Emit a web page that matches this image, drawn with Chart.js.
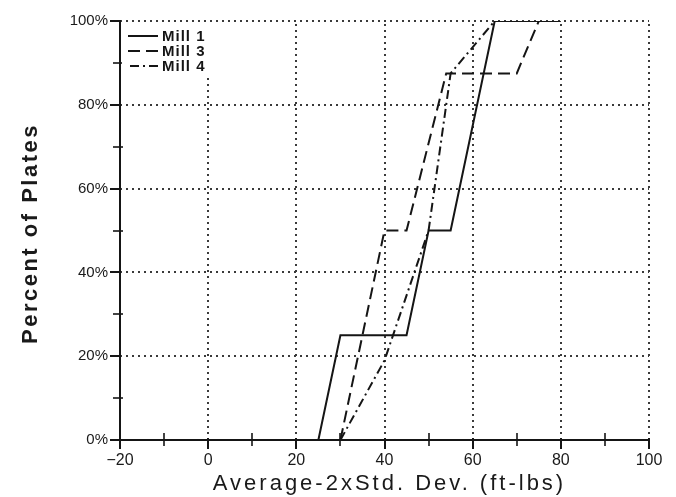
<!DOCTYPE html>
<html>
<head>
<meta charset="utf-8">
<script src="https://cdn.jsdelivr.net/npm/chart.js@4"></script>
<style>
  html, body { margin: 0; padding: 0; background: #fff; }
  canvas { display: block; }
</style>
</head>
<body>
<canvas id="chart" width="676" height="497"></canvas>
<script>
// Cumulative share of plates by (average - 2 x std. dev.) toughness
const seriesNames = ['Mill 1', 'Mill 3', 'Mill 4'];
const mill1X = [25, 30, 45, 50, 55, 65, 80];
const mill1Y = [0, 25, 25, 50, 50, 100, 100];
const mill3X = [30, 40, 45, 54, 70, 75];
const mill3Y = [0, 50, 50, 87.5, 87.5, 100];
const mill4X = [30, 40, 50, 55, 65];
const mill4Y = [0, 19, 50, 87.5, 100];
const xTicks = [-20, 0, 20, 40, 60, 80, 100];
const xMinorTicks = [-10, 10, 30, 50, 70, 90];
const yTicks = [0, 20, 40, 60, 80, 100];
const yMinorTicks = [10, 30, 50, 70, 90];
const xTitle = 'Average-2xStd. Dev. (ft-lbs)';
const yTitle = 'Percent of Plates';

const ink = '#151515';
const pts = (xs, ys) => xs.map((x, i) => ({ x: x, y: ys[i] }));

function lineSet(label, xs, ys, dash) {
  return {
    label: label,
    data: pts(xs, ys),
    borderColor: ink,
    borderWidth: 2,
    borderDash: dash,
    pointRadius: 0,
    tension: 0,
    fill: false
  };
}

// Dotted grid, axis tick marks, inset legend and spaced axis titles
const framePlugin = {
  id: 'frame',
  beforeDatasetsDraw(chart) {
    const { ctx, chartArea: a, scales: { x, y } } = chart;
    ctx.save();
    ctx.strokeStyle = '#3a3a3a';
    ctx.lineWidth = 2;
    ctx.setLineDash([2, 4]);
    xTicks.filter(v => v > x.min).forEach(v => {
      const px = Math.round(x.getPixelForValue(v));
      ctx.beginPath(); ctx.moveTo(px, a.bottom); ctx.lineTo(px, a.top); ctx.stroke();
    });
    yTicks.filter(v => v > y.min).forEach(v => {
      const py = Math.round(y.getPixelForValue(v));
      ctx.beginPath(); ctx.moveTo(a.left, py); ctx.lineTo(a.right, py); ctx.stroke();
    });
    ctx.restore();
  },
  afterDraw(chart) {
    const { ctx, chartArea: a, scales: { x, y } } = chart;
    ctx.save();
    ctx.strokeStyle = ink;
    ctx.setLineDash([]);
    // x-axis ticks
    ctx.lineWidth = 2;
    xTicks.forEach(v => {
      const px = Math.round(x.getPixelForValue(v));
      ctx.beginPath(); ctx.moveTo(px, a.bottom - 2); ctx.lineTo(px, a.bottom + 9); ctx.stroke();
    });
    ctx.lineWidth = 1.6;
    xMinorTicks.forEach(v => {
      const px = Math.round(x.getPixelForValue(v));
      ctx.beginPath(); ctx.moveTo(px, a.bottom - 7); ctx.lineTo(px, a.bottom + 6); ctx.stroke();
    });
    // y-axis ticks
    ctx.lineWidth = 2;
    yTicks.forEach(v => {
      const py = Math.round(y.getPixelForValue(v));
      ctx.beginPath(); ctx.moveTo(a.left - 10, py); ctx.lineTo(a.left + 1, py); ctx.stroke();
    });
    ctx.lineWidth = 1.6;
    yMinorTicks.forEach(v => {
      const py = Math.round(y.getPixelForValue(v));
      ctx.beginPath(); ctx.moveTo(a.left - 7, py); ctx.lineTo(a.left + 3, py); ctx.stroke();
    });

    // legend
    ctx.fillStyle = '#fff';
    ctx.fillRect(a.left + 2, a.top + 3, 96, 53);
    ctx.font = 'bold 15px "Liberation Sans", Arial, sans-serif';
    ctx.textBaseline = 'middle';
    ctx.textAlign = 'left';
    ctx.letterSpacing = '1px';
    ctx.fillStyle = ink;
    const rows = [a.top + 15, a.top + 30, a.top + 45];
    chart.data.datasets.forEach((ds, i) => {
      const ly = rows[i];
      ctx.lineWidth = 2;
      ctx.setLineDash(ds.borderDash || []);
      ctx.beginPath(); ctx.moveTo(a.left + 38, ly); ctx.lineTo(a.left + 8, ly); ctx.stroke();
      ctx.setLineDash([]);
      ctx.fillText(ds.label, a.left + 42, ly + 1);
    });

    // axis titles
    ctx.fillStyle = '#1a1a1a';
    ctx.textBaseline = 'alphabetic';
    ctx.textAlign = 'center';
    ctx.letterSpacing = '3px';
    ctx.font = '22px "Liberation Sans", Arial, sans-serif';
    ctx.fillText(xTitle, (a.left + a.right) / 2 + 5, 490);
    ctx.translate(37, (a.top + a.bottom) / 2 + 3);
    ctx.rotate(-Math.PI / 2);
    ctx.letterSpacing = '2.5px';
    ctx.font = 'bold 22px "Liberation Sans", Arial, sans-serif';
    ctx.fillText(yTitle, 0, 0);
    ctx.restore();
  }
};

new Chart(document.getElementById('chart'), {
  type: 'line',
  data: {
    datasets: [
      lineSet(seriesNames[0], mill1X, mill1Y, []),
      lineSet(seriesNames[1], mill3X, mill3Y, [12, 6]),
      lineSet(seriesNames[2], mill4X, mill4Y, [9, 4, 2, 4])
    ]
  },
  options: {
    responsive: false,
    animation: false,
    devicePixelRatio: 1,
    layout: { padding: { left: 0, right: 27, top: 16, bottom: 0 } },
    plugins: { legend: { display: false }, tooltip: { enabled: false } },
    scales: {
      x: {
        type: 'linear',
        min: -20,
        max: 100,
        afterBuildTicks: s => { s.ticks = xTicks.map(v => ({ value: v })); },
        afterFit: s => { s.height = 57; },
        grid: { display: false, drawTicks: false },
        border: { display: true, color: ink, width: 2 },
        ticks: {
          padding: 11,
          autoSkip: false,
          maxRotation: 0,
          color: '#1a1a1a',
          font: { family: '"Liberation Sans", Arial, sans-serif', size: 16 },
          callback: v => (v < 0 ? '\u2212' + Math.abs(v) : String(v))
        }
      },
      y: {
        type: 'linear',
        min: 0,
        max: 100,
        afterBuildTicks: s => { s.ticks = yTicks.map(v => ({ value: v })); },
        afterFit: s => { s.width = 120; },
        grid: { display: false, drawTicks: false },
        border: { display: true, color: ink, width: 2 },
        ticks: {
          padding: 12,
          autoSkip: false,
          color: '#1a1a1a',
          font: { family: '"Liberation Sans", Arial, sans-serif', size: 15 },
          callback: v => v + '%'
        }
      }
    }
  },
  plugins: [framePlugin]
});
</script>
</body>
</html>
